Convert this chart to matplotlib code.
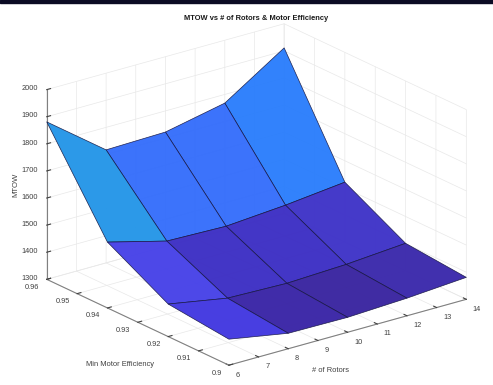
import matplotlib
matplotlib.use("Agg")
import numpy as np
import matplotlib.pyplot as plt
from matplotlib.colors import to_rgba
from matplotlib.patches import Rectangle

rotors = [6, 8, 10, 12, 14]
efficiency = [0.96, 0.94, 0.92, 0.90]
mtow_096 = [1881, 1717, 1722, 1768, 1911]
mtow_094 = [1543, 1486, 1480, 1497, 1521]
mtow_092 = [1420, 1381, 1375, 1384, 1401]
mtow_090 = [1396, 1357, 1355, 1365, 1381]
cell_colors = [
    ["#2596E8", "#356EFB", "#356EFB", "#2B7EFC"],
    ["#4742E8", "#3D2FC4", "#3D2FC4", "#3F33C8"],
    ["#4238E0", "#3A25A6", "#3A25A0", "#3B29AC"],
]
x_ticks = [6, 7, 8, 9, 10, 11, 12, 13, 14]
y_ticks = [0.9, 0.91, 0.92, 0.93, 0.94, 0.95, 0.96]
z_ticks = [1300, 1400, 1500, 1600, 1700, 1800, 1900, 2000]

plt.rcParams["font.family"] = ["Liberation Sans", "DejaVu Sans"]
plt.rcParams["grid.color"] = "#E8E8E8"
plt.rcParams["grid.linewidth"] = 0.5
W, H = 493, 385
fig = plt.figure(figsize=(W / 100, H / 100), dpi=100)
fig.patches.append(Rectangle((0, 1 - 3 / H), 1, 3 / H, transform=fig.transFigure, color="#0B0B24"))

side = 520
cx, cy = 249.5, 201.5
ax = fig.add_axes([(cx - side / 2) / W, (H - cy - side / 2) / H, side / W, side / H], projection="3d")
ax.set_proj_type("ortho")
ax.view_init(elev=21.2, azim=-127.5)
ax.set_box_aspect((1, 1, 0.68), zoom=1.184 * 385 / side)
ax.patch.set_alpha(0)

X, Y = np.meshgrid(rotors, efficiency)
Z = np.array([mtow_096, mtow_094, mtow_092, mtow_090], dtype=float)
fc = np.array([[to_rgba(c, 0.97) for c in row] for row in cell_colors])
surf = ax.plot_surface(X, Y, Z, facecolors=fc, rstride=1, cstride=1, shade=False, linewidth=0.5, antialiased=True)
surf.set_edgecolor((0.08, 0.08, 0.25, 0.9))

ax.set_xlim(6, 14, view_margin=0)
ax.set_ylim(0.9, 0.96, view_margin=0)
ax.set_zlim(1300, 2000, view_margin=0)
ax.set_xticks(x_ticks)
ax.set_yticks(y_ticks)
ax.set_zticks(z_ticks)
ax.set_yticklabels(["0.9", "0.91", "0.92", "0.93", "0.94", "0.95", "0.96"])
ax.tick_params(labelsize=5.3, colors="#404040", pad=-1, length=2, width=0.5)
ax.yaxis.set_tick_params(pad=-2)
ax.zaxis.set_tick_params(pad=0)
for a in (ax.xaxis, ax.yaxis, ax.zaxis):
    a.set_pane_color((1, 1, 1, 0))
    a.pane.set_edgecolor((1, 1, 1, 0))
    a.line.set_color("#808080")
    a.line.set_linewidth(0.8)
    a._axinfo["tick"]["inward_factor"] = 0.0
    a._axinfo["tick"]["outward_factor"] = 0.2
for t in ax.xaxis.get_ticklabels():
    t.set_va("center")
    t.set_ha("left")
for t in ax.yaxis.get_ticklabels():
    t.set_va("center")
    t.set_ha("right")
for t in ax.zaxis.get_ticklabels():
    t.set_va("center")

fig.text(256.5 / W, 1 - 18 / H, "MTOW vs # of Rotors & Motor Efficiency", ha="center", va="center",
         fontsize=5.4, fontweight="bold", color="#1a1a1a")
fig.text(330 / W, 1 - 370 / H, "# of Rotors", ha="center", va="center", fontsize=5.4, color="#404040")
fig.text(120 / W, 1 - 365 / H, "Min Motor Efficiency", ha="center", va="center", fontsize=5.4, color="#404040")
fig.text(16 / W, 1 - 185 / H, "MTOW", ha="center", va="center", fontsize=5.6, color="#404040", rotation=90)
fig.savefig("out.png", dpi=100)
